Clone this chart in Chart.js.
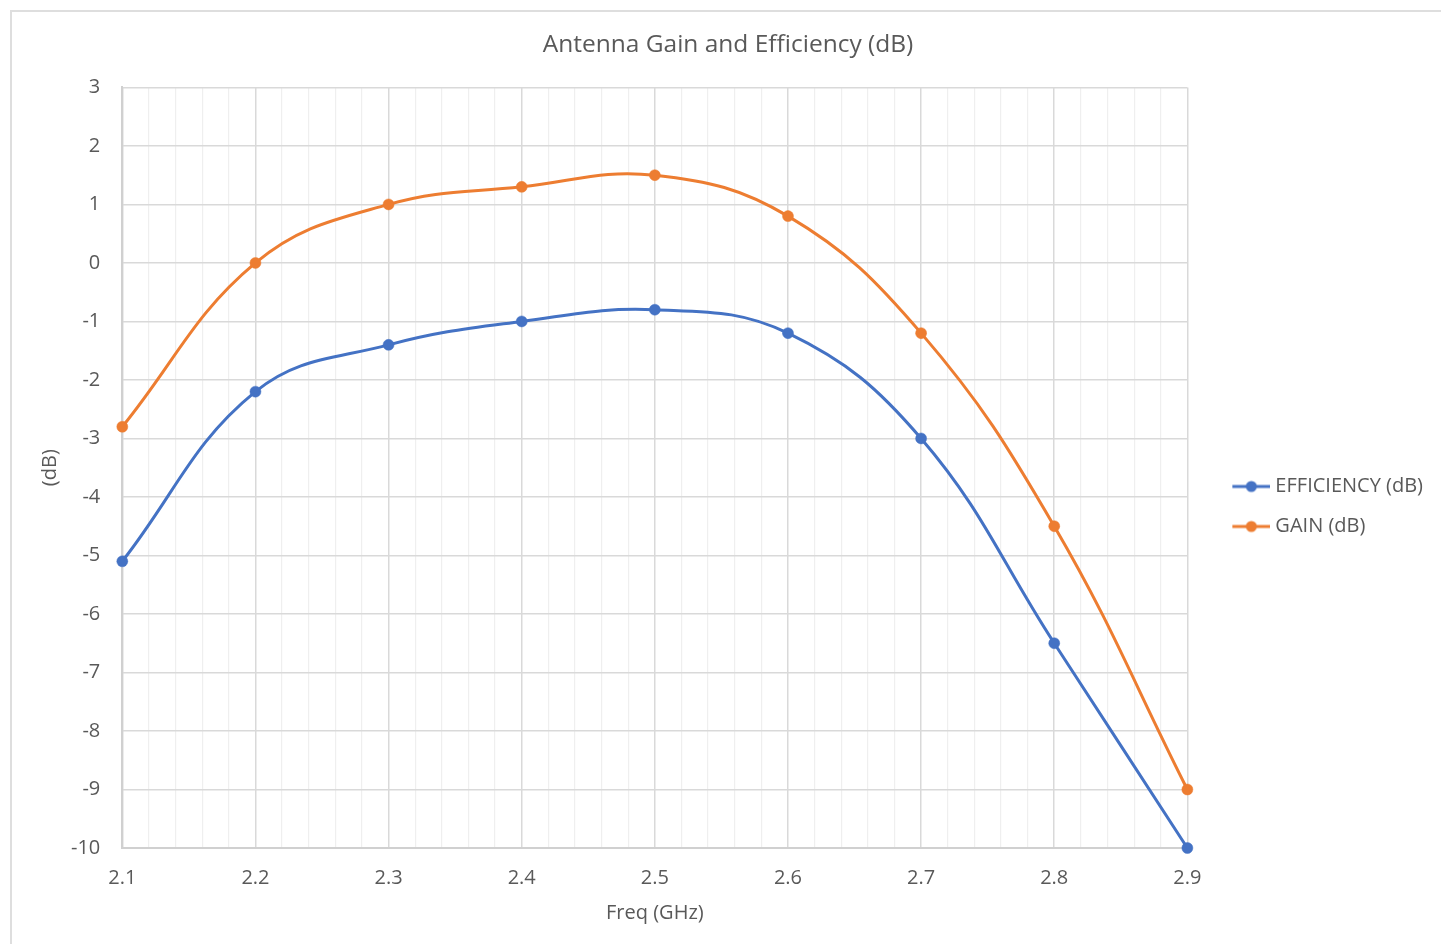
<!DOCTYPE html>
<html>
<head>
<meta charset="utf-8">
<title>Antenna Gain and Efficiency</title>
<script src="https://cdn.jsdelivr.net/npm/chart.js@4.4.0/dist/chart.umd.min.js"></script>
<style>
html, body { margin: 0; padding: 0; background: #fff; overflow: hidden; }
#frame { position: absolute; left: 10px; top: 10px; width: 1500px; height: 1000px; border-left: 2px solid #dedede; border-top: 2px solid #dedede; }
#wrap { position: absolute; left: 0; top: 0; width: 1441px; height: 944px; }
</style>
</head>
<body>
<div id="frame"></div>
<div id="wrap"><canvas id="chart"></canvas></div>
<script>
// values
var freq = [2.1, 2.2, 2.3, 2.4, 2.5, 2.6, 2.7, 2.8, 2.9];
var efficiency = [-5.1, -2.2, -1.4, -1.0, -0.8, -1.2, -3.0, -6.5, -10.0];
var gain = [-2.8, 0.0, 1.0, 1.3, 1.5, 0.8, -1.2, -4.5, -9.0];
var seriesNames = ['EFFICIENCY (dB)', 'GAIN (dB)'];
var seriesColors = ['#4472C4', '#ED7D31'];

var xMin = 2.1, xMax = 2.9, xStep = 0.02;
var yMin = -10, yMax = 3, yStep = 1;

var textColor = '#595959';
var majorGrid = '#d9d9d9';
var minorGrid = '#efefef';

Chart.defaults.font.family = "'Open Sans', sans-serif";
Chart.defaults.color = textColor;

function toPoints(xs, ys) {
  var out = [];
  for (var i = 0; i < xs.length; i++) out.push({x: xs[i], y: ys[i]});
  return out;
}

// little line + dot picture for the legend, like excel
function legendIcon(color) {
  var c = document.createElement('canvas');
  c.width = 68; c.height = 20;
  var g = c.getContext('2d');
  g.strokeStyle = color;
  g.lineWidth = 3;
  g.beginPath();
  g.moveTo(30, 10);
  g.lineTo(68, 10);
  g.stroke();
  g.fillStyle = color;
  g.beginPath();
  g.arc(49, 10, 5.5, 0, Math.PI * 2);
  g.fill();
  return c;
}
var icons = [legendIcon(seriesColors[0]), legendIcon(seriesColors[1])];

function makeSet(i, ys) {
  return {
    label: seriesNames[i],
    data: toPoints(freq, ys),
    borderColor: seriesColors[i],
    backgroundColor: seriesColors[i],
    pointBackgroundColor: seriesColors[i],
    pointBorderColor: seriesColors[i],
    pointRadius: 5.5,
    pointBorderWidth: 0.5,
    borderWidth: 3,
    tension: 0.4,
    clip: false,
    fill: false
  };
}

var ctx = document.getElementById('chart').getContext('2d');
var chart = new Chart(ctx, {
  type: 'line',
  data: {
    datasets: [makeSet(0, efficiency), makeSet(1, gain)]
  },
  options: {
    responsive: true,
    maintainAspectRatio: false,
    animation: false,
    layout: { padding: { left: 23, top: 10, right: 8, bottom: 19 } },
    plugins: {
      title: {
        display: true,
        text: 'Antenna Gain and Efficiency (dB)',
        color: textColor,
        font: { size: 24.5, weight: 'normal' },
        padding: { top: 20, bottom: 28 }
      },
      legend: {
        position: 'right',
        align: 'center',
        title: { display: true, text: '', font: { size: 10 }, padding: { top: 33, bottom: 33 } },
        labels: {
          usePointStyle: true,
          pointStyleWidth: 58,
          padding: 20,
          color: textColor,
          font: { size: 20 },
          generateLabels: function(chart) {
            var items = Chart.defaults.plugins.legend.labels.generateLabels(chart);
            items.forEach(function(it) { it.pointStyle = icons[it.datasetIndex]; });
            return items;
          }
        }
      },
      tooltip: { enabled: false }
    },
    scales: {
      x: {
        type: 'linear',
        min: xMin,
        max: xMax,
        // chart.js counts the tick padding twice, take one back
        afterFit: function(scale) { scale.height -= 18; },
        ticks: {
          stepSize: xStep,
          autoSkip: false,
          maxRotation: 0,
          padding: 18,
          color: textColor,
          font: { size: 20 },
          callback: function(v, i) { return i % 5 === 0 ? v.toFixed(1) : ''; }
        },
        grid: {
          drawTicks: false,
          color: function(c) { return c.index % 5 === 0 ? majorGrid : minorGrid; },
          lineWidth: function(c) { return c.index % 5 === 0 ? 1.5 : 1.2; }
        },
        border: { color: '#d0d0d0', width: 2 },
        title: {
          display: true,
          text: 'Freq (GHz)',
          color: textColor,
          font: { size: 20 },
          padding: { top: 11, bottom: 0 }
        }
      },
      y: {
        min: yMin,
        max: yMax,
        afterFit: function(scale) { scale.width -= 22; },
        ticks: {
          stepSize: yStep,
          padding: 22,
          color: textColor,
          font: { size: 20 }
        },
        grid: { drawTicks: false, color: majorGrid, lineWidth: 1.5 },
        border: { color: '#d0d0d0', width: 2 },
        title: {
          display: true,
          text: '(dB)',
          color: textColor,
          font: { size: 20 },
          padding: { top: 15, bottom: 9 }
        }
      }
    }
  }
});
</script>
</body>
</html>
